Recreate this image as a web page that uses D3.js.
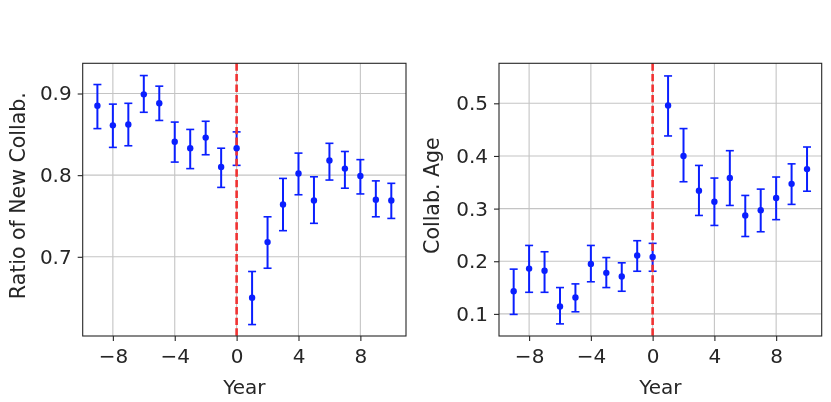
<!DOCTYPE html>
<meta charset="utf-8">
<style>
body { margin: 0; background: #fff; }
svg { filter: blur(0.35px); }
text { font-family: "DejaVu Sans", sans-serif; fill: #262626; }
.grid line { stroke: #c4c4c4; stroke-width: 1.1px; }
.frame { fill: none; stroke: #262626; stroke-width: 1.1px; }
</style>
<body>
<script src="https://cdn.jsdelivr.net/npm/d3@7"></script>
<script>

// data
var years = [-9, -8, -7, -6, -5, -4, -3, -2, -1, 0, 1, 2, 3, 4, 5, 6, 7, 8, 9, 10];

var ratioMean = [0.885, 0.861, 0.862, 0.899, 0.888, 0.841, 0.833, 0.846, 0.810, 0.833,
                 0.650, 0.718, 0.764, 0.802, 0.769, 0.818, 0.808, 0.799, 0.770, 0.769];
var ratioLow  = [0.857, 0.834, 0.836, 0.877, 0.867, 0.816, 0.808, 0.825, 0.785, 0.812,
                 0.617, 0.686, 0.732, 0.776, 0.741, 0.794, 0.784, 0.777, 0.749, 0.747];
var ratioHigh = [0.911, 0.887, 0.888, 0.922, 0.909, 0.865, 0.856, 0.866, 0.833, 0.853,
                 0.682, 0.749, 0.796, 0.827, 0.798, 0.839, 0.829, 0.819, 0.793, 0.790];

var ageMean = [0.143, 0.186, 0.182, 0.114, 0.131, 0.195, 0.178, 0.171, 0.211, 0.208,
               0.496, 0.400, 0.334, 0.313, 0.358, 0.287, 0.297, 0.320, 0.347, 0.375];
var ageLow  = [0.099, 0.141, 0.141, 0.081, 0.104, 0.161, 0.150, 0.143, 0.181, 0.181,
               0.438, 0.351, 0.287, 0.268, 0.306, 0.247, 0.256, 0.279, 0.308, 0.333];
var ageHigh = [0.185, 0.230, 0.218, 0.150, 0.157, 0.230, 0.207, 0.197, 0.239, 0.234,
               0.552, 0.452, 0.382, 0.358, 0.410, 0.325, 0.337, 0.360, 0.385, 0.417];

var xTicks = [-8, -4, 0, 4, 8];
var ratioTicks = [0.7, 0.8, 0.9];
var ageTicks = [0.1, 0.2, 0.3, 0.4, 0.5];

var svg = d3.select("body").append("svg")
    .attr("width", 831)
    .attr("height", 402);

function panel(opts) {
  var x = d3.scaleLinear().domain([-9.95, 10.95]).range([opts.left, opts.right]);
  var y = d3.scaleLinear().domain(opts.yDomain).range([336, 63.3]);
  var top = 63.3, bottom = 336;

  var g = svg.append("g");

  // grid
  var grid = g.append("g").attr("class", "grid");
  grid.selectAll(".gx").data(xTicks).enter().append("line")
      .attr("x1", x).attr("x2", x)
      .attr("y1", top).attr("y2", bottom);
  grid.selectAll(".gy").data(opts.yTicks).enter().append("line")
      .attr("x1", opts.left).attr("x2", opts.right)
      .attr("y1", y).attr("y2", y);

  // axes
  var ax = g.append("g")
      .attr("transform", "translate(0," + bottom + ")")
      .call(d3.axisBottom(x).tickValues(xTicks).tickSize(5).tickPadding(8).tickFormat(d3.format("d")));
  var ay = g.append("g")
      .attr("transform", "translate(" + opts.left + ",0)")
      .call(d3.axisLeft(y).tickValues(opts.yTicks).tickSize(5).tickPadding(6).tickFormat(d3.format(".1f")));
  [ax, ay].forEach(function(a) {
    a.select(".domain").remove();
    a.selectAll(".tick line").attr("stroke", "#262626").attr("stroke-width", 1.1);
    a.selectAll(".tick text").attr("font-size", 20).attr("fill", "#262626")
      .style("font-family", "DejaVu Sans");
  });

  // error bars
  var bars = g.append("g");
  years.forEach(function(yr, i) {
    var cx = x(yr);
    bars.append("line")
        .attr("x1", cx).attr("x2", cx)
        .attr("y1", y(opts.low[i])).attr("y2", y(opts.high[i]))
        .attr("stroke", "#0a1fff").attr("stroke-width", 2);
    [opts.low[i], opts.high[i]].forEach(function(v) {
      bars.append("line")
          .attr("x1", cx - 4).attr("x2", cx + 4)
          .attr("y1", y(v)).attr("y2", y(v))
          .attr("stroke", "#0a1fff").attr("stroke-width", 1.6);
    });
  });

  // red dashed line at year 0
  g.append("line")
      .attr("x1", x(0)).attr("x2", x(0))
      .attr("y1", top).attr("y2", bottom)
      .attr("stroke", "#f03232")
      .attr("stroke-width", 2.6)
      .attr("stroke-dasharray", "7.4,3.2");

  g.append("g").selectAll("circle").data(years).enter().append("circle")
      .attr("cx", function(d) { return x(d); })
      .attr("cy", function(d, i) { return y(opts.mean[i]); })
      .attr("r", 3.2)
      .attr("fill", "#0a1fff");

  g.append("rect").attr("class", "frame")
      .attr("x", opts.left).attr("y", top)
      .attr("width", opts.right - opts.left).attr("height", bottom - top);

  g.append("text")
      .attr("text-anchor", "middle")
      .attr("x", (opts.left + opts.right) / 2)
      .attr("y", 394)
      .attr("font-size", 20)
      .text("Year");

  g.append("text")
      .attr("text-anchor", "middle")
      .attr("transform", "translate(" + opts.labelX + "," + ((top + bottom) / 2 - 4) + ")rotate(-90)")
      .attr("font-size", 20.5)
      .text(opts.label);
}

panel({left: 82.7, right: 406, yDomain: [0.603, 0.937], yTicks: ratioTicks,
       mean: ratioMean, low: ratioLow, high: ratioHigh,
       label: "Ratio of New Collab.", labelX: 25});

panel({left: 499, right: 821.7, yDomain: [0.058, 0.576], yTicks: ageTicks,
       mean: ageMean, low: ageLow, high: ageHigh,
       label: "Collab. Age", labelX: 439});

</script>
</body>
</html>
